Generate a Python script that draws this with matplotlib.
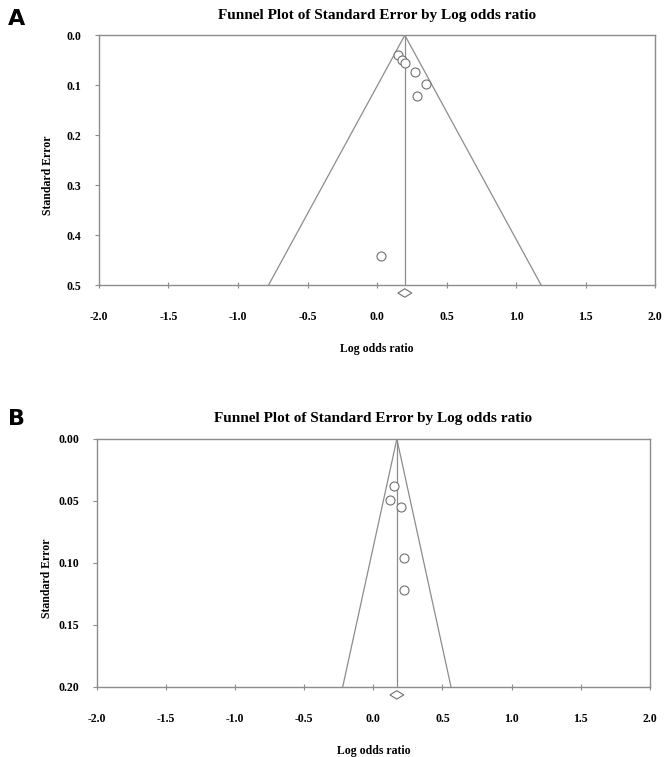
import matplotlib.pyplot as plt
import matplotlib.transforms as mtransforms
from matplotlib.patches import Polygon
import numpy as np

plt.rcParams['font.family'] = ['Liberation Serif', 'DejaVu Serif']

# Panel A data
a_lor = [0.15, 0.18, 0.20, 0.27, 0.35, 0.29, 0.03]
a_se = [0.040, 0.050, 0.056, 0.074, 0.098, 0.122, 0.442]
a_pooled = 0.20
a_ci = (0.15, 0.25)
a_se_max = 0.5
a_yticks = [0.0, 0.1, 0.2, 0.3, 0.4, 0.5]
a_ylabels = ['0.0', '0.1', '0.2', '0.3', '0.4', '0.5']

# Panel B data
b_lor = [0.15, 0.12, 0.20, 0.22, 0.22]
b_se = [0.038, 0.049, 0.055, 0.096, 0.122]
b_pooled = 0.17
b_ci = (0.12, 0.22)
b_se_max = 0.20
b_yticks = [0.00, 0.05, 0.10, 0.15, 0.20]
b_ylabels = ['0.00', '0.05', '0.10', '0.15', '0.20']

xticks = [-2.0, -1.5, -1.0, -0.5, 0.0, 0.5, 1.0, 1.5, 2.0]
xlabels = ['-2.0', '-1.5', '-1.0', '-0.5', '0.0', '0.5', '1.0', '1.5', '2.0']

gray = '#8c8c8c'

fig = plt.figure(figsize=(6.66, 7.57), dpi=100)


def funnel(ax, lor, se, pooled, ci, se_max, yticks, ylabels):
    # funnel lines (95% limits)
    ax.plot([pooled - 1.96 * se_max, pooled, pooled + 1.96 * se_max],
            [se_max, 0, se_max], color=gray, lw=0.9)
    ax.plot([pooled, pooled], [0, se_max], color=gray, lw=0.9)
    ax.scatter(lor, se, s=42, facecolors='white', edgecolors='#707070',
               linewidths=0.8, zorder=3)
    # diamond for the combined effect, below the axis
    tr = mtransforms.blended_transform_factory(ax.transData, ax.transAxes)
    d = Polygon([[ci[0], -0.032], [pooled, -0.015], [ci[1], -0.032], [pooled, -0.049]],
                closed=True, facecolor='white', edgecolor='#707070', lw=0.8,
                transform=tr, clip_on=False)
    ax.add_patch(d)

    ax.set_xlim(-2, 2)
    ax.set_ylim(se_max, 0)
    ax.set_xticks(xticks)
    ax.set_xticklabels(xlabels, fontsize=8.5, fontweight='bold')
    ax.set_yticks(yticks)
    ax.set_yticklabels(ylabels, fontsize=8.5, fontweight='bold')
    ax.tick_params(axis='x', direction='inout', length=4, width=0.8, color=gray, pad=17)
    ax.tick_params(axis='y', direction='out', length=3, width=0.8, color=gray, pad=10)
    for s in ax.spines.values():
        s.set_color(gray)
        s.set_linewidth(1.0)
    ax.set_title('Funnel Plot of Standard Error by Log odds ratio',
                 fontsize=11, fontweight='bold', pad=12)
    ax.set_xlabel('Log odds ratio', fontsize=8.5, fontweight='bold', labelpad=14)
    ax.set_ylabel('Standard Error', fontsize=8.5, fontweight='bold')
    ax.yaxis.set_label_coords(-0.08, 0.44)


ax1 = fig.add_axes([0.1486, 0.6235, 0.835, 0.330])
funnel(ax1, a_lor, a_se, a_pooled, a_ci, a_se_max, a_yticks, a_ylabels)

ax2 = fig.add_axes([0.1456, 0.0925, 0.830, 0.3276])
funnel(ax2, b_lor, b_se, b_pooled, b_ci, b_se_max, b_yticks, b_ylabels)

fig.text(0.012, 0.975, 'A', fontsize=16, fontweight='bold', family='DejaVu Sans', va='center')
fig.text(0.012, 0.447, 'B', fontsize=16, fontweight='bold', family='DejaVu Sans', va='center')

fig.savefig('out.png', dpi=100, facecolor='white')
